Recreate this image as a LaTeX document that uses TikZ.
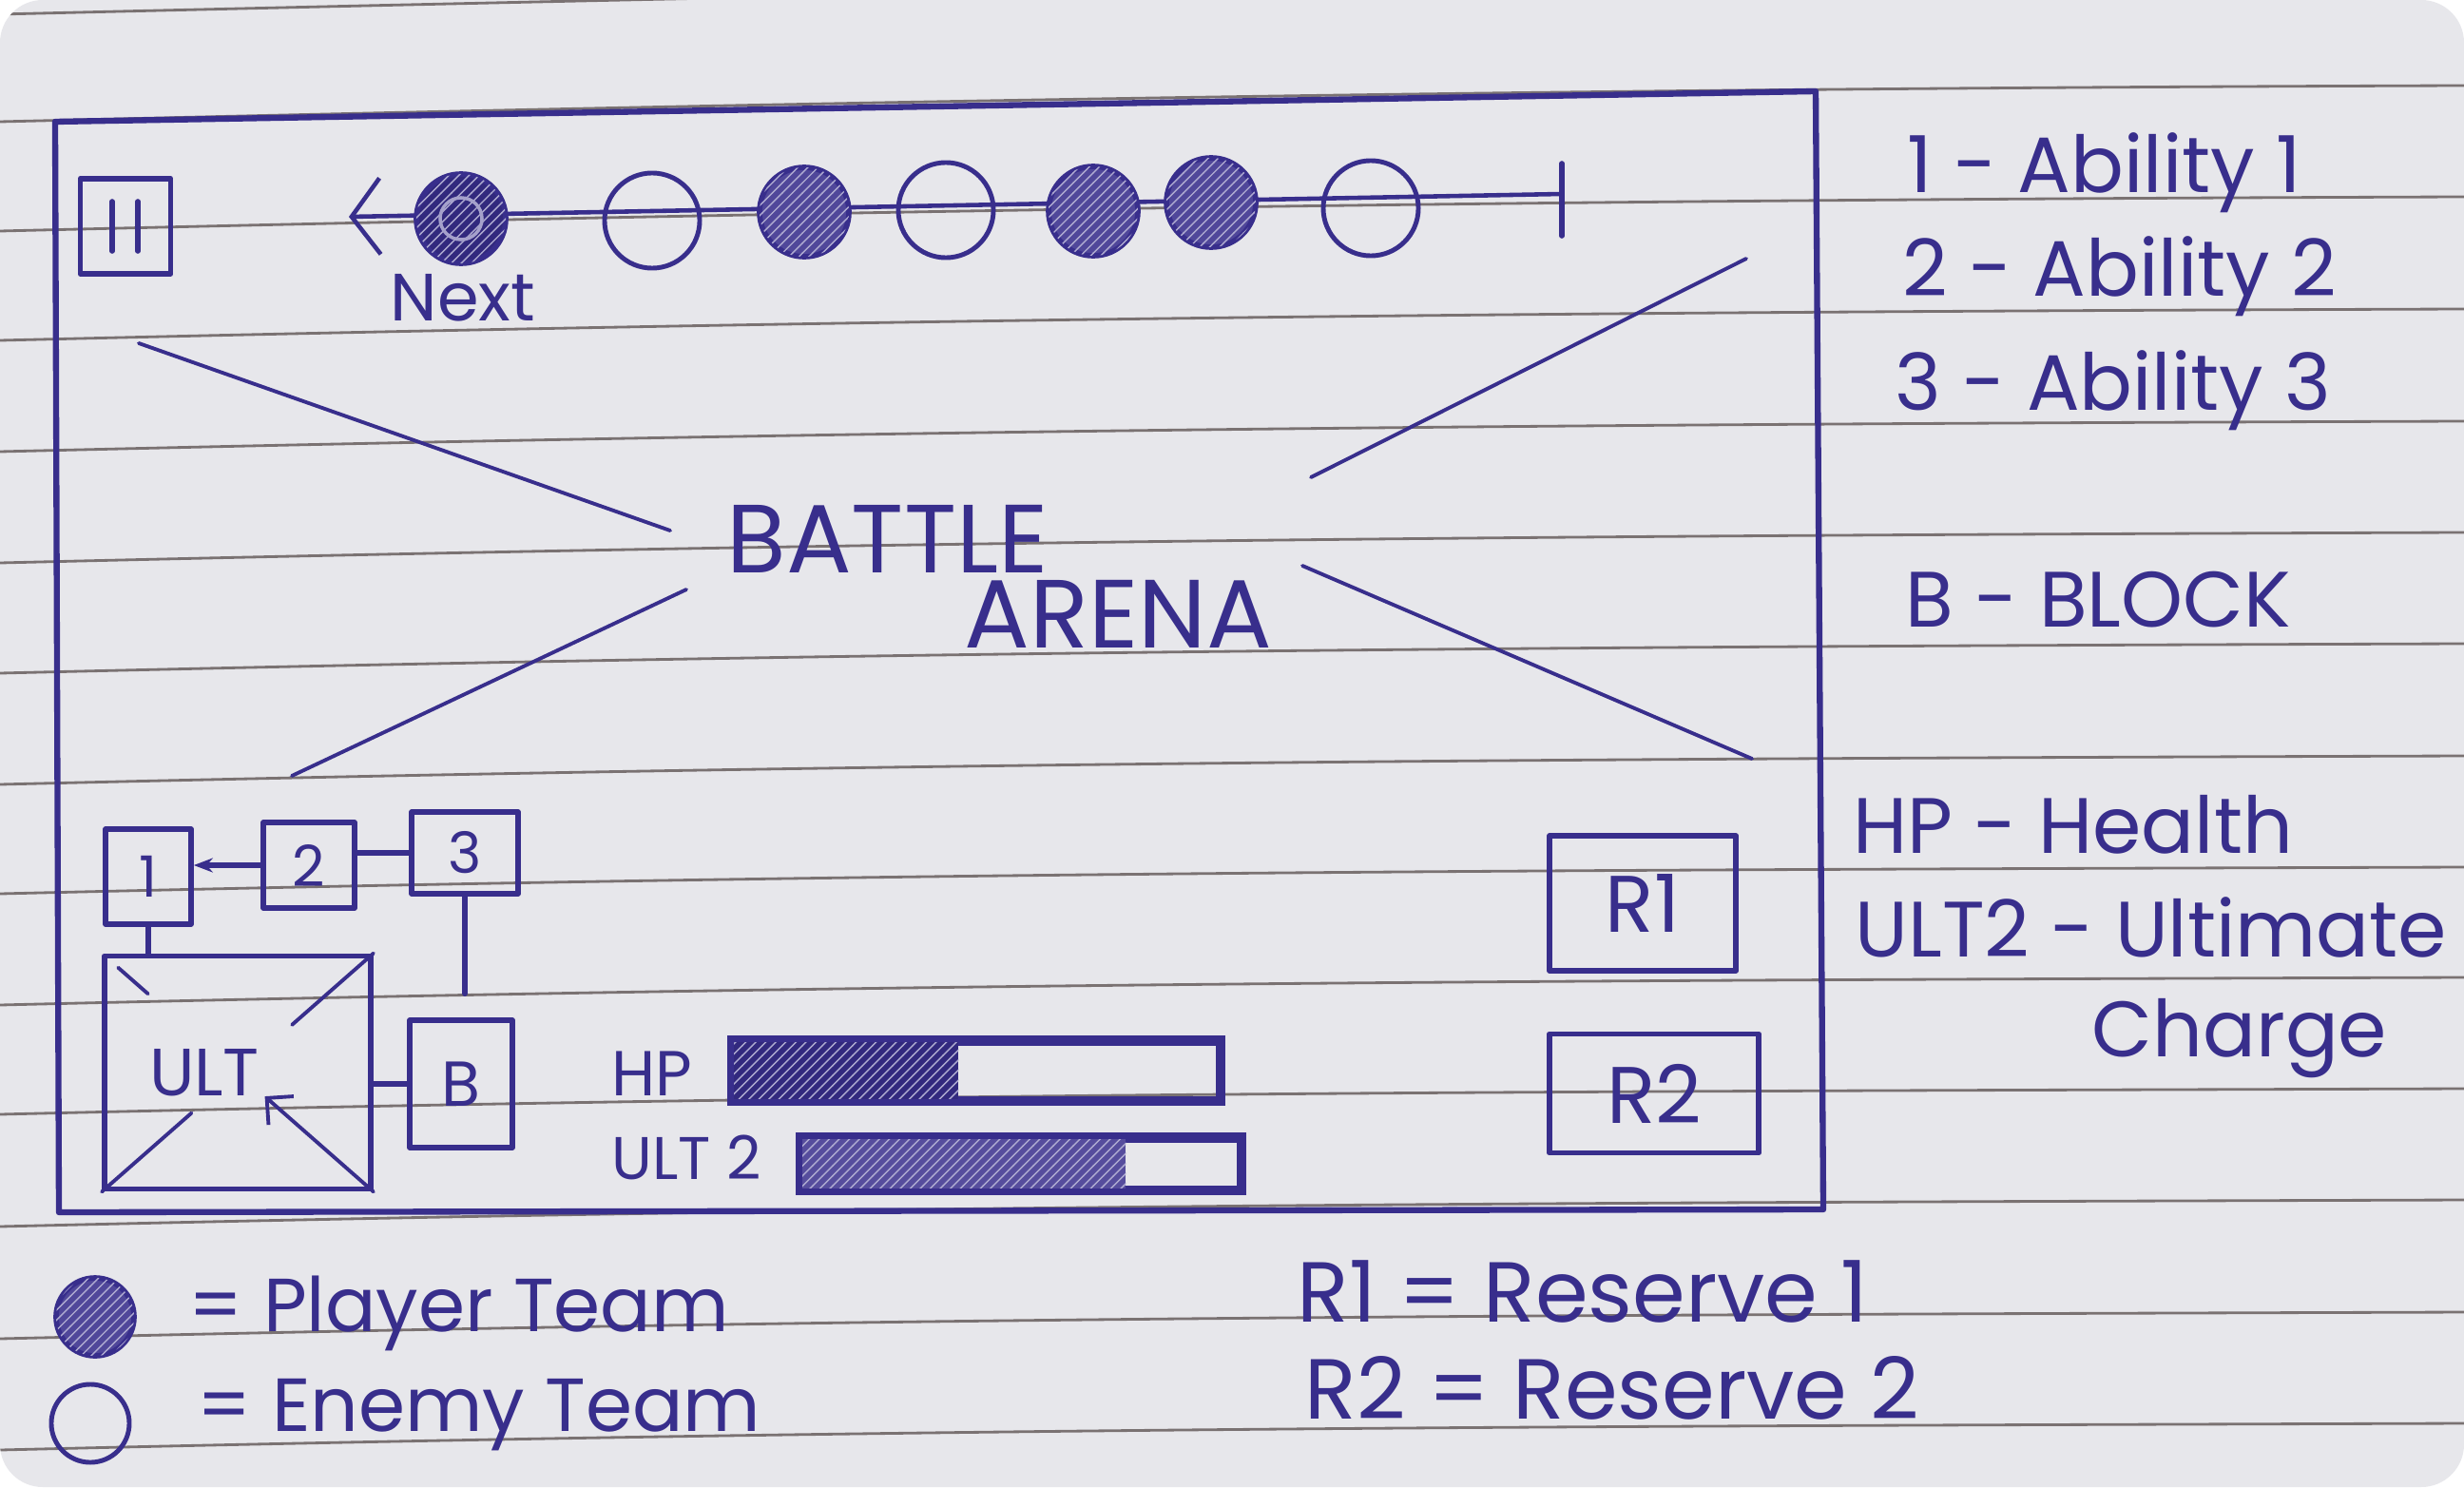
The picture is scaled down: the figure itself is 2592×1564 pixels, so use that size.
\documentclass[tikz,border=0pt]{standalone}
\usepackage{fontspec}
\setmainfont{Poppins}
\usetikzlibrary{arrows.meta, calc, patterns}
\definecolor{inkcol}{RGB}{56, 46, 140}
\definecolor{papercol}{RGB}{231, 231, 235}
\definecolor{rulecol}{RGB}{122, 114, 114}
\tikzset{
  pen/.style     = {draw=inkcol, line width=1.6pt, line cap=round,
                    line join=round},
  thinpen/.style = {draw=inkcol, line width=1.1pt, line cap=round},
  ruling/.style  = {draw=rulecol, line width=0.8pt},
  hand/.style    = {text=inkcol, inner sep=0pt, anchor=base west},
  keybox/.style  = {pen, inner sep=0pt, text=inkcol,
                    font=\fontsize{17}{20}\selectfont},
  mine/.style    = {circle, draw=inkcol, line width=1.6pt, fill=inkcol!88,
                    postaction={pattern=north east lines,
                                pattern color=inkcol!40!white},
                    inner sep=0pt, minimum size=9.4mm},
  theirs/.style  = {circle, draw=inkcol, line width=1.4pt, inner sep=0pt,
                    minimum size=10mm},
  hatch/.style   = {fill=inkcol!85, postaction={pattern=north east lines,
                    pattern color=inkcol!40!white}},
  bar/.style     = {draw=inkcol, line width=2pt, inner sep=0pt},
  % handwriting sizes
  keyfont/.style = {font=\fontsize{23.5}{28}\selectfont},
  bigfont/.style = {font=\fontsize{29}{34}\selectfont},
}

\begin{document}
\begin{tikzpicture}[x=0.01cm, y=-0.01cm]

  %% ---------------- the sheet ----------------
  \fill[white] (0,0) rectangle (2592,1564);
  \fill[papercol, rounded corners=4.5mm] (0,0) rectangle (2592,1564);
  \useasboundingbox (0,0) rectangle (2592,1564);
  \begin{scope}
    \clip[rounded corners=4.5mm] (0,0) rectangle (2592,1564);
    \foreach \yl/\yr in {15/-25, 128/90, 243/207, 358/325, 475/443,
                         592/560, 708/677, 825/795, 940/912, 1057/1028,
                         1172/1145, 1290/1262, 1408/1380, 1525/1497} {
      \draw[ruling] (0,\yl) .. controls (1000,\yl-24) and (1700,\yr+3)
                    .. (2592,\yr);
    }
  \end{scope}

  %% ---------------- the screen ----------------
  \coordinate (fnw) at (58,128);
  \coordinate (fne) at (1910,96);
  \coordinate (fse) at (1918,1272);
  \coordinate (fsw) at (62,1275);
  \draw[pen, line width=1.8pt] (fsw) -- (fnw) -- (fne) -- (fse) -- cycle;

  %% ---------------- turn order ----------------
  \node[pen, minimum width=9.5mm, minimum height=10mm] (pause) at (132,238) {};
  \draw[pen] ($(pause.center)+(-14,-26)$) -- ++(0,52);
  \draw[pen] ($(pause.center)+(13,-26)$) -- ++(0,52);

  \coordinate (tlhead) at (367,228);
  \coordinate (tlend) at (1643,204);
  \draw[pen, line width=1.3pt, -{Straight Barb[length=3mm, width=8mm]}]
       (tlend) -- (tlhead);
  \draw[pen] ($(tlend)+(0,-32)$) -- ($(tlend)+(0,44)$);

  \node[mine, fill=inkcol!90!black] (next) at (485,230) {};
  \draw[draw=inkcol!45!white, line width=1pt] (next) circle[radius=2.2mm];
  \foreach \nm/\st/\x/\y in {c2/theirs/686/232, c3/mine/846/223,
                             c4/theirs/995/221, c5/mine/1150/222,
                             c6/mine/1274/213, c7/theirs/1442/219} {
    \node[\st] (\nm) at (\x,\y) {};
  }
  \node[hand, anchor=north, font=\fontsize{20}{24}\selectfont] (nextlbl)
       at ($(next.south)+(2,8)$) {Next};

  %% ---------------- the arena ----------------
  \draw[thinpen] (146,361) -- (705,558);
  \draw[thinpen] (307,816) -- (722,620);
  \draw[thinpen] (1379,502) -- (1837,272);
  \draw[thinpen] (1370,595) -- (1843,798);
  \node[hand, bigfont] (battle) at (764,602) {BATTLE};
  \node[hand, bigfont] (arena) at (1014,681) {ARENA};

  %% ---------------- abilities ----------------
  \node[keybox, minimum width=9mm, minimum height=10mm] (ab1) at (156,922) {1};
  \node[keybox, minimum width=9.6mm, minimum height=9mm] (ab2) at (325,910) {2};
  \node[keybox, minimum width=11.2mm, minimum height=8.6mm] (ab3) at (489,897) {3};
  \node[keybox, minimum width=10.8mm, minimum height=13.4mm,
        font=\fontsize{19}{22}\selectfont] (blk) at (485,1140) {B};
  % label sits left of the middle, as sketched
  \node[keybox, minimum width=28mm, minimum height=24.5mm,
        font=\fontsize{20}{24}\selectfont] (ult) at (250,1128)
       {ULT\hspace*{7mm}};

  \draw[pen, -{Stealth[length=2mm]}] (ab2.west) -- (ab2.west -| ab1.east);
  \draw[pen] (ab3.west) -- (ab3.west -| ab2.east);
  \draw[pen] (ab1.south) -- (ab1.south |- ult.north);
  \draw[pen, shorten >=2.5mm] (ab3.south) -- (ab3.south |- blk.north);
  \draw[pen] (blk.west -| ult.east) -- (blk.west);

  % the crossed-out picture of the ultimate
  \draw[thinpen] ($(ult.north west)!0.06!(ult.south east)$)
              -- ($(ult.north west)!0.17!(ult.south east)$);
  \draw[thinpen] (ult.north east) -- ($(ult.north east)!0.3!(ult.south west)$);
  \draw[thinpen] (ult.south west) -- ($(ult.south west)!0.33!(ult.north east)$);
  \draw[thinpen, {Straight Barb[length=2mm]}-]
       ($(ult.south east)!0.4!(ult.north west)$) -- (ult.south east);

  %% ---------------- health and charge ----------------
  \node[hand, font=\fontsize{19}{22}\selectfont] (hplbl) at (643,1152) {HP};
  \node[bar, minimum width=51mm, minimum height=6mm] (hpbar) at (1027,1126) {};
  \fill[hatch, fill=inkcol!90!black] (hpbar.north west)
       rectangle ($(hpbar.south west)+(240,0)$);
  \draw[bar] (hpbar.north west) rectangle (hpbar.south east);

  \node[hand, font=\fontsize{18}{22}\selectfont] (ultlbl) at (643,1240) {ULT 2};
  \node[bar, minimum width=46mm, minimum height=5.2mm] (ultbar) at (1074,1224) {};
  \fill[hatch] (ultbar.north west) rectangle ($(ultbar.south west)+(344,0)$);
  \draw[bar] (ultbar.north west) rectangle (ultbar.south east);

  %% ---------------- reserves ----------------
  \node[keybox, minimum width=19.6mm, minimum height=14.2mm,
        font=\fontsize{24}{28}\selectfont] (res1) at (1728,950) {R1};
  \node[keybox, minimum width=22mm, minimum height=12.5mm,
        font=\fontsize{24}{28}\selectfont] (res2) at (1740,1150) {R2};

  %% ---------------- key on the right ----------------
  \node[hand, keyfont] (key1) at (2006,203) {1 - Ability 1};
  \node[hand, keyfont] (key2) at (2001,312) {2 - Ability 2};
  \node[hand, keyfont] (key3) at (1993,431) {3 - Ability 3};
  \node[hand, keyfont] (keyb) at (2004,659) {B - BLOCK};
  \node[hand, keyfont] (keyhp) at (1949,897) {HP - Health};
  \node[hand, keyfont] (keyult) at (1951,1006) {ULT2 - Ultimate};
  \node[hand, keyfont] (keychg) at (2200,1111) {Charge};

  %% ---------------- key below ----------------
  \node[mine, minimum size=8.2mm] (legmine) at (100,1385) {};
  \node[theirs, minimum size=8.2mm] (legtheirs) at (95,1497) {};
  \node[hand, font=\fontsize{22.5}{27}\selectfont] (minetxt) at (198,1400)
       {= Player Team};
  \node[hand, font=\fontsize{22.5}{27}\selectfont] (theirstxt) at (207,1505)
       {= Enemy Team};
  \node[hand, font=\fontsize{25.5}{30}\selectfont] (res1txt) at (1364,1390)
       {R1 = Reserve 1};
  \node[hand, font=\fontsize{25.5}{30}\selectfont] (res2txt) at (1372,1492)
       {R2 = Reserve 2};

\end{tikzpicture}
\end{document}
